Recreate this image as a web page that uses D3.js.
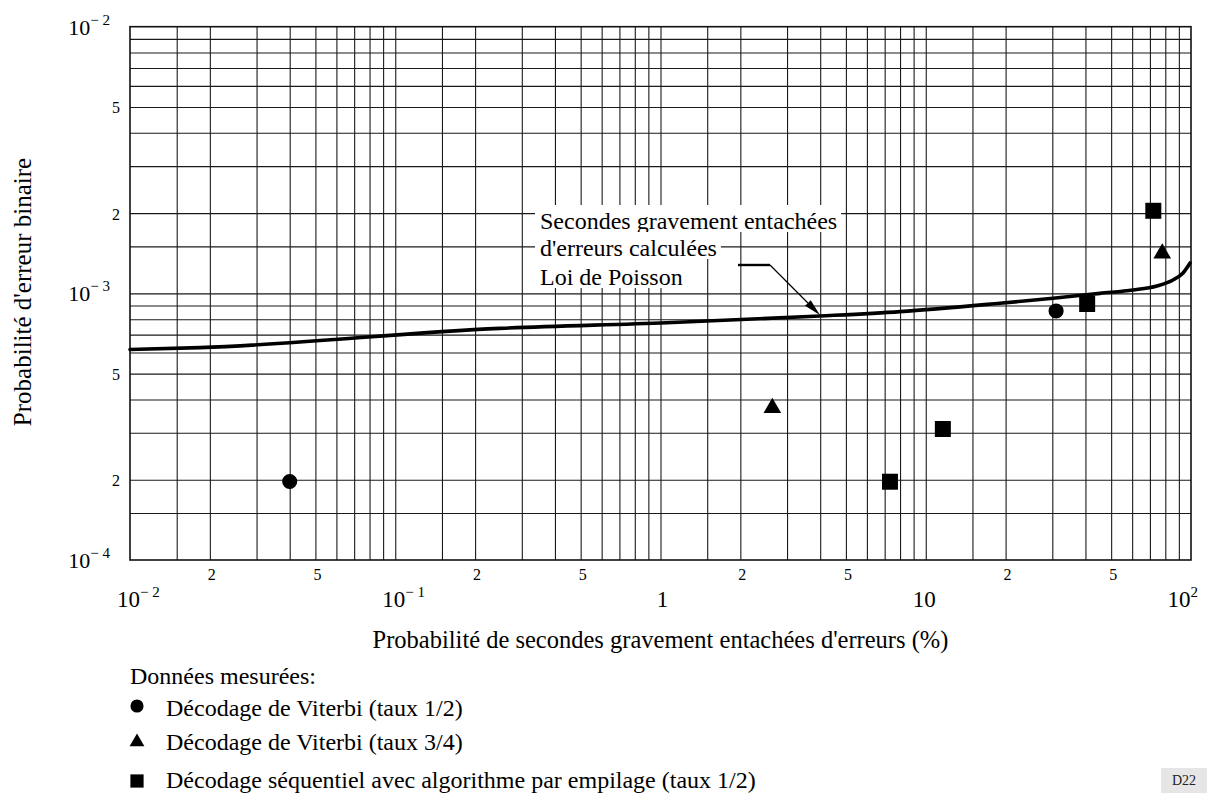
<!DOCTYPE html>
<html><head><meta charset="utf-8">
<script src="https://cdn.jsdelivr.net/npm/d3@7"></script>
<style>
body{margin:0;background:#fff}
svg{display:block}
</style>
</head><body>
<svg id="c" width="1209" height="794"></svg>
<script>
// ---------- data ----------
const poissonX = [0.01, 0.01836, 0.248, 1.058, 3.99, 8.0, 19.05, 30.2, 45.4, 60.4, 74.4, 85.5, 93.3, 99.2];
const poissonY = [6.16e-4, 6.26e-4, 7.39e-4, 7.76e-4, 8.22e-4, 8.54e-4, 9.18e-4, 9.58e-4, 1.0e-3, 1.029e-3, 1.066e-3, 1.122e-3, 1.192e-3, 1.30e-3];
const viterbi12X = [0.04, 31];
const viterbi12Y = [1.97e-4, 8.59e-4];
const viterbi34X = [2.64, 77.9];
const viterbi34Y = [3.715e-4, 1.412e-3];
const stackX = [7.33, 11.6, 40.6, 72.1];
const stackY = [1.966e-4, 3.10e-4, 9.12e-4, 2.04e-3];

const gridMantissas = [1, 1.5, 2, 3, 4, 5, 6, 7, 8, 9];
const xMajorTicks = [0.01, 0.1, 1, 10, 100];
const xMajorBase = ["10", "10", "1", "10", "10"];
const xMajorExp = ["\u2212 2", "\u2212 1", "", "", "2"];
const xMinorTicks = [0.02, 0.05, 0.2, 0.5, 2, 5, 20, 50];
const xMinorLabels = ["2", "5", "2", "5", "2", "5", "2", "5"];
const yMajorTicks = [1e-2, 1e-3, 1e-4];
const yMajorExp = ["\u2212 2", "\u2212 3", "\u2212 4"];
const yMinorTicks = [5e-3, 2e-3, 5e-4, 2e-4];
const yMinorLabels = ["5", "2", "5", "2"];

const xTitle = "Probabilité de secondes gravement entachées d'erreurs (%)";
const yTitle = "Probabilité d'erreur binaire";
const legendTitle = "Données mesurées:";
const seriesNames = ["Décodage de Viterbi (taux 1/2)", "Décodage de Viterbi (taux 3/4)", "Décodage séquentiel avec algorithme par empilage (taux 1/2)"];
const annotationLines = ["Secondes gravement entachées", "d'erreurs calculées", "Loi de Poisson"];
const annotationTarget = [3.99, 8.22e-4];
const figureCode = "D22";

// ---------- layout ----------
const FONT = "'Liberation Serif', 'Times New Roman', Tinos, serif";
const L = 130, R = 1191, T = 26.7, B = 560;
const svg = d3.select("#c");
const x = d3.scaleLog().domain([0.01, 100]).range([L, R]);
const y = d3.scaleLog().domain([1e-4, 1e-2]).range([B, T]);

function txt(sel) { return sel.append("text").style("font-family", FONT).attr("fill", "#000"); }

function gridValues(lo, hi) {
  const out = [];
  for (let e = Math.round(Math.log10(lo)); e < Math.round(Math.log10(hi)); e++)
    gridMantissas.forEach(m => out.push(m * Math.pow(10, e)));
  return out.filter(v => v > lo * 1.0001);
}
const gx = gridValues(0.01, 100);
const gy = gridValues(1e-4, 1e-2);

// grid via axes
const gridX = svg.append("g").attr("transform", `translate(0,${B})`)
  .call(d3.axisBottom(x).tickValues(gx).tickSize(-(B - T)).tickFormat(""));
const gridY = svg.append("g").attr("transform", `translate(${L},0)`)
  .call(d3.axisLeft(y).tickValues(gy).tickSize(-(R - L)).tickFormat(""));
[gridX, gridY].forEach(g => {
  g.select(".domain").remove();
  g.selectAll(".tick line").attr("stroke", "#1a1a1a").attr("stroke-width", 1.1);
});

// frame
svg.append("rect").attr("x", L).attr("y", T).attr("width", R - L).attr("height", B - T)
  .attr("fill", "none").attr("stroke", "#111").attr("stroke-width", 1.6);

// ---------- tick labels ----------
yMajorTicks.forEach((v, i) => {
  const t = txt(svg).attr("x", 110).attr("y", y(v) + 8)
    .attr("text-anchor", "end").attr("font-size", 22);
  t.append("tspan").text("10");
  t.append("tspan").attr("dy", -10).attr("font-size", 15).text(yMajorExp[i]);
});
yMinorTicks.forEach((v, i) => {
  txt(svg).attr("x", 116).attr("y", y(v) + 6.5)
    .attr("text-anchor", "middle").attr("font-size", 16).text(yMinorLabels[i]);
});
xMinorTicks.forEach((v, i) => {
  txt(svg).attr("x", x(v) + 2).attr("y", 580)
    .attr("text-anchor", "middle").attr("font-size", 16).text(xMinorLabels[i]);
});
xMajorTicks.forEach((v, i) => {
  const last = i === xMajorTicks.length - 1;
  let anchor = "start", px = x(v) - 13;
  if (xMajorBase[i] === "1") { anchor = "middle"; px = x(v) + 2; }
  if (last) { anchor = "end"; px = x(v) + 7; }
  const t = txt(svg).attr("x", px).attr("y", 607)
    .attr("text-anchor", anchor).attr("font-size", 23);
  t.append("tspan").text(xMajorBase[i]);
  if (xMajorExp[i]) t.append("tspan").attr("dy", -10).attr("font-size", 15).text(xMajorExp[i]);
});

// axis titles
txt(svg).attr("x", 660.5).attr("y", 648).attr("text-anchor", "middle")
  .attr("font-size", 24.5).text(xTitle);
txt(svg).attr("transform", "translate(31,292) rotate(-90)").attr("text-anchor", "middle")
  .attr("font-size", 25).text(yTitle);

// ---------- Poisson curve ----------
const curveData = poissonX.map((v, i) => [v, poissonY[i]]);
svg.append("path").datum(curveData)
  .attr("d", d3.line().x(d => x(d[0])).y(d => y(d[1])).curve(d3.curveMonotoneX))
  .attr("fill", "none").attr("stroke", "#000").attr("stroke-width", 3.6)
  .attr("stroke-linecap", "round");

// ---------- annotation ----------
const annX = 540, annBase = [229, 256, 285];
const annG = svg.append("g");
annotationLines.forEach((s, i) => {
  const bgr = annG.append("rect").attr("fill", "#fff");
  const t = txt(annG).attr("x", annX).attr("y", annBase[i]).attr("font-size", 24).text(s);
  const bb = t.node().getBBox();
  const top = i === 0 ? annBase[i] - 24 : annBase[i - 1] + 3;
  bgr.attr("x", annX - 5).attr("y", top).attr("width", bb.width + 9)
     .attr("height", annBase[i] + 3 - top);
});
const tipX = x(annotationTarget[0]), tipY = y(annotationTarget[1]) - 1;
const elbowX = 770, elbowY = 265;
svg.append("line").attr("x1", 738).attr("y1", elbowY).attr("x2", elbowX).attr("y2", elbowY)
  .attr("stroke", "#000").attr("stroke-width", 2.4);
{
  const dx = tipX - elbowX, dy = tipY - elbowY, len = Math.hypot(dx, dy);
  const ux = dx / len, uy = dy / len, hl = 17, hw = 4;
  const bx = tipX - ux * hl, by = tipY - uy * hl;
  svg.append("line").attr("x1", elbowX).attr("y1", elbowY).attr("x2", bx).attr("y2", by)
    .attr("stroke", "#000").attr("stroke-width", 1.2);
  svg.append("path")
    .attr("d", `M${tipX},${tipY}L${bx - uy * hw},${by + ux * hw}L${bx + uy * hw},${by - ux * hw}Z`)
    .attr("fill", "#000");
}

// ---------- markers ----------
const sym = (type, size) => d3.symbol().type(type).size(size)();
const series = [
  {xs: viterbi12X, ys: viterbi12Y, type: d3.symbolCircle, size: 180, lsize: 135},
  {xs: viterbi34X, ys: viterbi34Y, type: d3.symbolTriangle, size: 135, lsize: 95},
  {xs: stackX, ys: stackY, type: d3.symbolSquare, size: 256, lsize: 175}
];
series.forEach(s => {
  svg.append("g").selectAll("path").data(s.xs.map((v, i) => [v, s.ys[i]])).join("path")
    .attr("transform", d => `translate(${x(d[0])},${y(d[1])})`)
    .attr("d", sym(s.type, s.size)).attr("fill", "#000");
});

// ---------- legend ----------
txt(svg).attr("x", 130).attr("y", 684).attr("font-size", 24).text(legendTitle);
const legSymY = [706, 742, 781], legTextY = [716, 750, 788];
series.forEach((s, i) => {
  svg.append("path").attr("transform", `translate(137,${legSymY[i]})`)
    .attr("d", sym(s.type, s.lsize)).attr("fill", "#000");
  txt(svg).attr("x", 166).attr("y", legTextY[i]).attr("font-size", 24).text(seriesNames[i]);
});

svg.append("rect").attr("x", 1161).attr("y", 768).attr("width", 46).attr("height", 25).attr("fill", "#e6e6e6");
txt(svg).attr("x", 1184).attr("y", 785).attr("text-anchor", "middle").attr("font-size", 14)
  .attr("fill", "#222").text(figureCode);
</script>
</body></html>
